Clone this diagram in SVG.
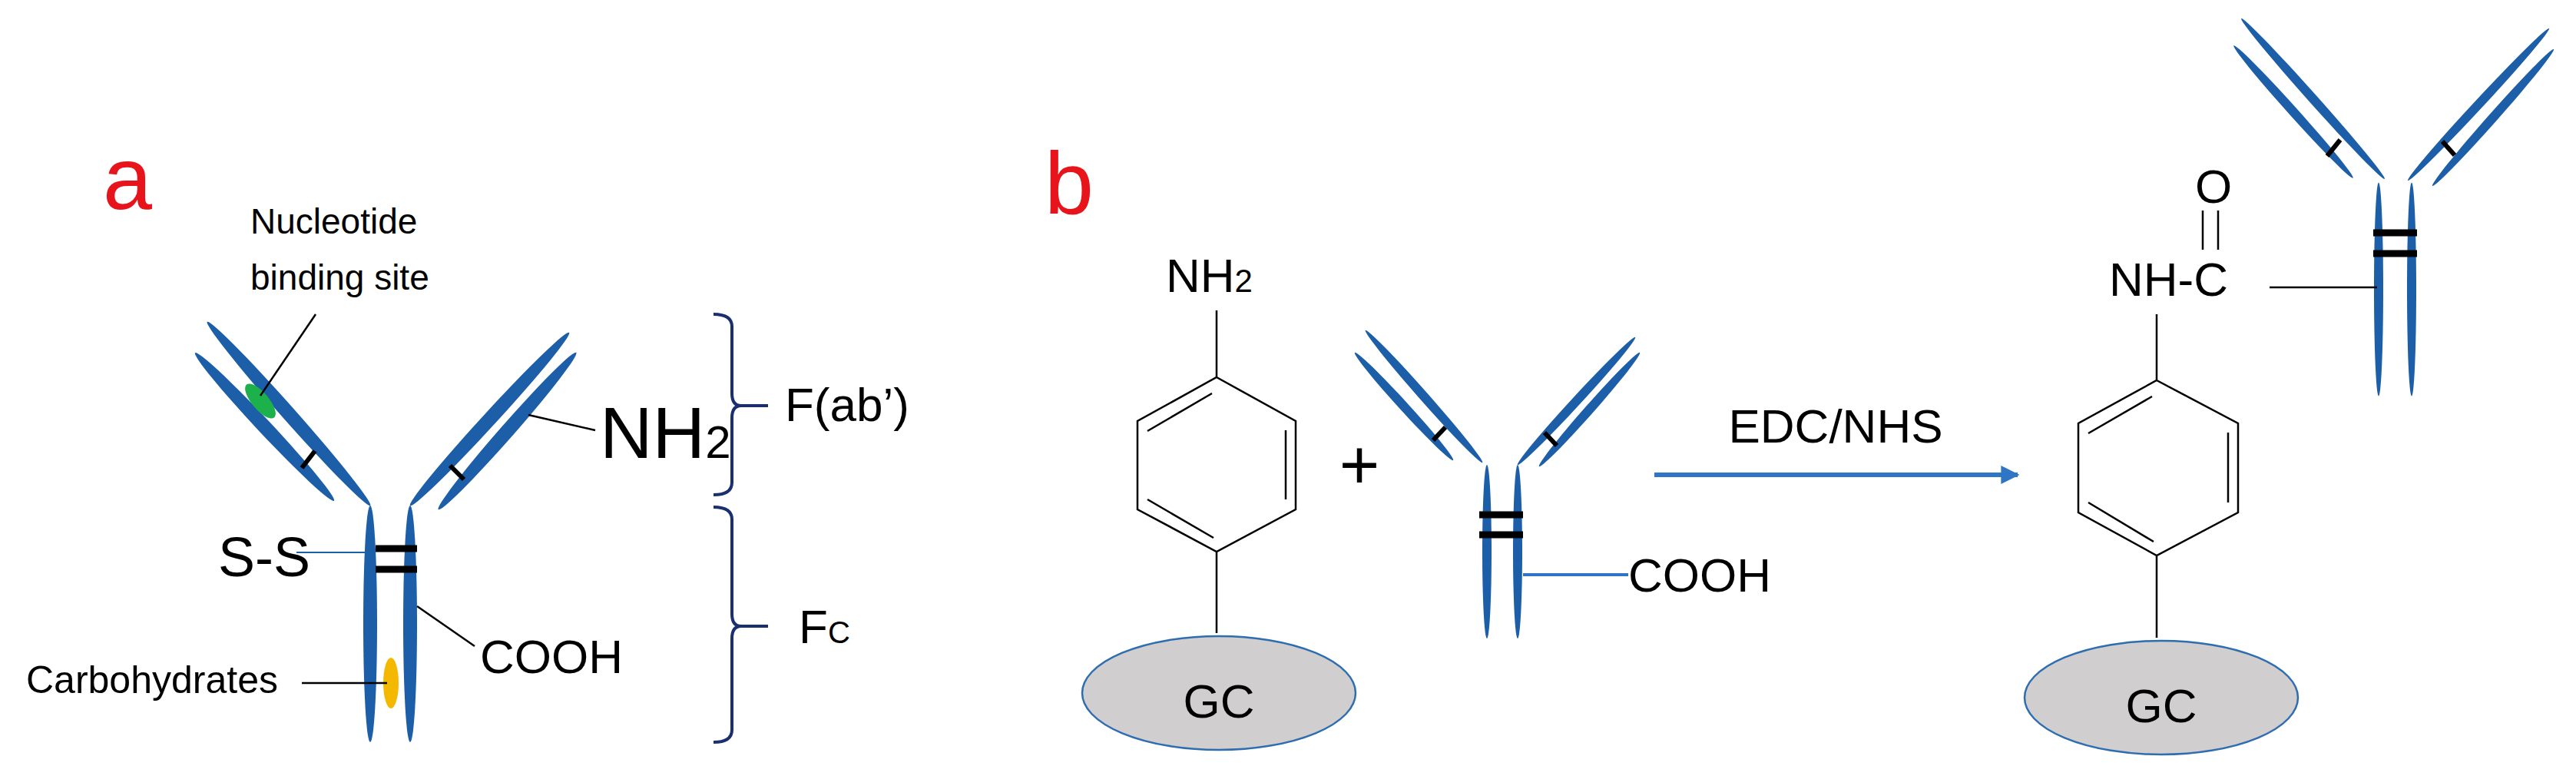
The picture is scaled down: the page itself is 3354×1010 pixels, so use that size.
<svg xmlns="http://www.w3.org/2000/svg" width="3354" height="1010" viewBox="0 0 3354 1010">
<style>
.ab{fill:#1c5fa8}
.t{font-family:"Liberation Sans",Arial,sans-serif;fill:#000}
.k{stroke:#000;stroke-width:2.5;fill:none}
.bar{stroke:#000;stroke-width:9}
.tick{stroke:#000;stroke-width:6}
.br{stroke:#1a2f6e;stroke-width:4;fill:none}
.gc{fill:#d0cece;stroke:#2e6db0;stroke-width:2.5}
</style>
<defs>
<marker id="ah" viewBox="0 0 10 10" refX="9" refY="5" markerWidth="4" markerHeight="4" orient="auto"><path d="M0,0L10,5L0,10z" fill="#2e75c6"/></marker>
</defs>
<rect width="3354" height="1010" fill="#fff"/>
<g id="panel-a">
<text class="t" x="134" y="272" font-size="115" style="fill:#e8141b">a</text>
<g id="antibody-a">
<ellipse class="ab" cx="376" cy="538.5" rx="160" ry="9" transform="rotate(48.4 376 538.5)"/>
<ellipse class="ab" cx="344.5" cy="555.5" rx="132" ry="9" transform="rotate(46.8 344.5 555.5)"/>
<ellipse class="ab" cx="637.5" cy="545.5" rx="153" ry="9" transform="rotate(-47.4 637.5 545.5)"/>
<ellipse class="ab" cx="660.5" cy="561" rx="136" ry="9" transform="rotate(-48.7 660.5 561)"/>
<ellipse class="ab" cx="482" cy="812" rx="9" ry="154"/>
<ellipse class="ab" cx="534" cy="812" rx="9" ry="154"/>
<line class="bar" x1="489" y1="714" x2="543" y2="714"/>
<line class="bar" x1="489" y1="741" x2="543" y2="741"/>
<line class="tick" x1="393" y1="609" x2="410" y2="587"/>
<line class="tick" x1="586" y1="606" x2="604" y2="624"/>
<ellipse cx="339" cy="522" rx="28" ry="11" fill="#1db14b" transform="rotate(50 339 522)"/>
<ellipse cx="509" cy="889" rx="10" ry="33" fill="#f5b800"/>
</g>
<g id="labels-a">
<text class="t" x="326" y="304" font-size="46">Nucleotide</text>
<text class="t" x="326" y="377" font-size="46">binding site</text>
<text class="t" x="781" y="596" font-size="95">NH<tspan font-size="60">2</tspan></text>
<text class="t" x="284" y="750" font-size="72">S-S</text>
<text class="t" x="625" y="876" font-size="62">COOH</text>
<text class="t" x="34" y="902" font-size="50">Carbohydrates</text>
<text class="t" x="1022" y="548" font-size="62">F(ab’)</text>
<text class="t" x="1040" y="837" font-size="62">F<tspan font-size="40">C</tspan></text>
</g>
<g id="connectors-a">
<line class="k" x1="411" y1="409" x2="339" y2="515" stroke-width="1.5"/>
<line class="k" x1="688" y1="540" x2="775" y2="560" stroke-width="1.5"/>
<line x1="386" y1="719" x2="489" y2="719" stroke="#1c5fa8" stroke-width="2"/>
<line class="k" x1="543" y1="789" x2="618" y2="841" stroke-width="1.5"/>
<line class="k" x1="393" y1="889" x2="504" y2="889" stroke-width="1.5"/>
<path class="br" d="M929,409 Q953,409 953,425 L953,512 Q953,528 965,528 L1000,528 M965,528 Q953,528 953,544 L953,628 Q953,644 929,644"/>
<path class="br" d="M929,660 Q953,660 953,676 L953,799 Q953,815 965,815 L1000,815 M965,815 Q953,815 953,831 L953,950 Q953,966 929,966"/>
</g>
</g>
<g id="panel-b">
<text class="t" x="1360" y="278" font-size="115" style="fill:#e8141b">b</text>
<g id="gc-left">
<ellipse class="gc" cx="1587" cy="902" rx="178" ry="74"/>
<text class="t" x="1587" y="934" font-size="62" text-anchor="middle">GC</text>
</g>
<g id="benzene-left">
<text class="t" x="1518" y="380" font-size="62">NH<tspan font-size="42">2</tspan></text>
<path class="k" d="M1584,404V491 M1584,491L1687,548V663L1584,718L1481,663V548Z M1584,718V824"/>
<path class="k" d="M1494,561L1578,512 M1674,560V650 M1494,650L1580,700"/>
</g>
<text class="t" x="1770" y="636" font-size="90" text-anchor="middle">+</text>
<g id="antibody-b">
<ellipse class="ab" cx="1854" cy="516" rx="115" ry="6" transform="rotate(48.5 1854 516)"/>
<ellipse class="ab" cx="1828" cy="529" rx="95" ry="6" transform="rotate(47.6 1828 529)"/>
<ellipse class="ab" cx="2052.5" cy="522" rx="113" ry="6" transform="rotate(-47.3 2052.5 522)"/>
<ellipse class="ab" cx="2069.5" cy="533" rx="99" ry="6" transform="rotate(-48.5 2069.5 533)"/>
<ellipse class="ab" cx="1936" cy="718" rx="6" ry="113"/>
<ellipse class="ab" cx="1976" cy="718" rx="6" ry="113"/>
<line class="bar" x1="1926" y1="670" x2="1983" y2="670"/>
<line class="bar" x1="1926" y1="696" x2="1983" y2="696"/>
<line class="tick" x1="1866" y1="573" x2="1882" y2="556"/>
<line class="tick" x1="2011" y1="563" x2="2027" y2="580"/>
<text class="t" x="2120" y="770" font-size="62">COOH</text>
</g>
<g id="gc-right">
<ellipse class="gc" cx="2814" cy="908" rx="178" ry="74"/>
<text class="t" x="2814" y="940" font-size="62" text-anchor="middle">GC</text>
</g>
<g id="benzene-right">
<text class="t" x="2746" y="385" font-size="62">NH-C</text>
<text class="t" x="2858" y="264" font-size="62">O</text>
<path class="k" d="M2808,409V495 M2808,495L2914,551V667L2808,723L2706,667V551Z M2808,723V830"/>
<path class="k" d="M2719,564L2802,516 M2901,563V654 M2719,654L2804,705"/>
<path class="k" d="M2868,274V325 M2888,274V325" stroke-width="3"/>
</g>
<g id="antibody-c">
<ellipse class="ab" cx="3011.5" cy="128.5" rx="140" ry="6" transform="rotate(48.2 3011.5 128.5)"/>
<ellipse class="ab" cx="2986" cy="145.5" rx="116" ry="6" transform="rotate(48 2986 145.5)"/>
<ellipse class="ab" cx="3227" cy="136" rx="135" ry="6" transform="rotate(-47.1 3227 136)"/>
<ellipse class="ab" cx="3246" cy="153" rx="119" ry="6" transform="rotate(-48.4 3246 153)"/>
<ellipse class="ab" cx="3097" cy="376.5" rx="6" ry="139"/>
<ellipse class="ab" cx="3140" cy="376.5" rx="6" ry="139"/>
<line class="bar" x1="3090" y1="303" x2="3147" y2="303"/>
<line class="bar" x1="3090" y1="330" x2="3147" y2="330"/>
<line class="tick" x1="3030" y1="203" x2="3047" y2="182"/>
<line class="tick" x1="3180" y1="184" x2="3196" y2="202"/>
</g>
<g id="connectors-b">
<line x1="1983" y1="748" x2="2120" y2="748" stroke="#2e75c6" stroke-width="4"/>
<line x1="2154" y1="618" x2="2627" y2="618" stroke="#2e75c6" stroke-width="6" marker-end="url(#ah)"/>
<line class="k" x1="2955" y1="374" x2="3095" y2="374" stroke-width="3"/>
</g>
<text class="t" x="2390" y="576" font-size="62" text-anchor="middle">EDC/NHS</text>
</g>
</svg>
